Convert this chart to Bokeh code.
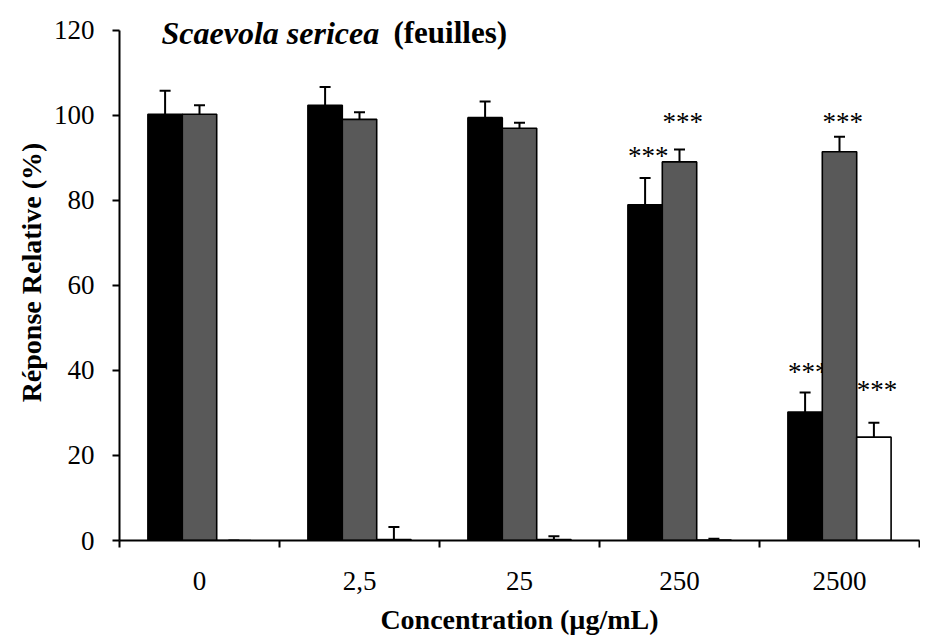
from bokeh.plotting import figure
from bokeh.models import (ColumnDataSource, Whisker, TeeHead, FixedTicker, Label,
                          Range1d)
from bokeh.embed import file_html
from bokeh.resources import INLINE
from bokeh.core.properties import value

# ---- data ----
categories = ["0", "2,5", "25", "250", "2500"]
black_vals = [100.2, 102.3, 99.4, 78.9, 30.2]
black_err = [5.5, 4.3, 3.8, 6.3, 4.6]
gray_vals = [100.2, 99.0, 96.9, 89.0, 91.4]
gray_err = [2.1, 1.7, 1.3, 2.9, 3.5]
white_vals = [0.0, 0.2, 0.2, 0.1, 24.3]
white_err = [0.0, 3.0, 0.8, 0.3, 3.4]

# significance marks: (category index, series index, y position)
star_cat = [3, 3, 4, 4, 4]
star_series = [0, 1, 0, 1, 2]
star_y = [90.5, 98.4, 39.6, 98.4, 35.4]

FONT = "Liberation Serif"
BAR_W = 0.215
offsets = [-BAR_W, 0.0, BAR_W]

p = figure(frame_width=800, frame_height=536, output_backend="svg",
           toolbar_location=None,
           x_range=Range1d(0, 5), y_range=Range1d(0, 126),
           min_border_left=119, min_border_right=1, min_border_top=4,
           min_border_bottom=80)
p.outline_line_color = None
p.xgrid.visible = False
p.ygrid.visible = False
p.background_fill_color = "white"
p.border_fill_color = "white"

# stars (drawn first so bars overlap them as in the original)
sx = [c + 0.5 + offsets[s] + 0.02 for c, s in zip(star_cat, star_series)]
p.text(x=sx, y=star_y, text=["***"] * len(sx), text_font=value(FONT),
       text_font_size="27px", text_align="center", text_baseline="middle",
       text_color="black")

series = [
    (black_vals, black_err, "#000000", "#000000"),
    (gray_vals, gray_err, "#595959", "#000000"),
    (white_vals, white_err, "#ffffff", "#000000"),
]

for i, (vals, errs, fill, line) in enumerate(series):
    xs = [k + 0.5 + offsets[i] for k in range(len(categories))]
    src = ColumnDataSource(dict(x=xs, top=vals,
                                lower=vals,
                                upper=[v + e for v, e in zip(vals, errs)]))
    p.vbar(x="x", top="top", bottom=0, width=BAR_W, source=src,
           fill_color=fill, line_color=line, line_width=1.6)
    w = Whisker(source=src, base="x", lower="lower", upper="upper",
                dimension="height", line_width=2, line_color="black",
                lower_head=None,
                upper_head=TeeHead(size=11, line_width=2, line_color="black"),
                level="glyph")
    p.add_layout(w)

# x axis
xax = p.xaxis[0]
xax.ticker = FixedTicker(ticks=[k + 0.5 for k in range(len(categories))],
                         minor_ticks=list(range(len(categories) + 1)))
xax.major_label_overrides = {k + 0.5: c for k, c in enumerate(categories)}
xax.major_tick_out = 0
xax.major_tick_in = 0
xax.minor_tick_out = 7
xax.minor_tick_in = 0
xax.minor_tick_line_width = 2
xax.minor_tick_line_color = "black"
xax.axis_line_width = 2
xax.axis_line_color = "black"
xax.major_label_text_font = FONT
xax.major_label_text_font_size = "27px"
xax.major_label_text_color = "black"
xax.major_label_standoff = 24
xax.axis_label = "Concentration (µg/mL)"
xax.axis_label_text_font = FONT
xax.axis_label_text_font_size = "28px"
xax.axis_label_text_font_style = "bold"
xax.axis_label_text_color = "black"
xax.axis_label_standoff = 11

# y axis
yax = p.yaxis[0]
yax.ticker = FixedTicker(ticks=[0, 20, 40, 60, 80, 100, 120], minor_ticks=[])
yax.bounds = (0, 120)
yax.major_tick_out = 7
yax.major_tick_in = 0
yax.major_tick_line_width = 2
yax.axis_line_width = 2
yax.axis_line_color = "black"
yax.major_tick_line_color = "black"
yax.major_label_text_font = FONT
yax.major_label_text_font_size = "27px"
yax.major_label_text_color = "black"
yax.major_label_standoff = 18
yax.axis_label = "Réponse Relative (%)"
yax.axis_label_text_font = FONT
yax.axis_label_text_font_size = "28px"
yax.axis_label_text_font_style = "bold"
yax.axis_label_text_color = "black"
yax.axis_label_standoff = 4

# title (two styles)
t1 = Label(x=0.2625, y=119.4, text="Scaevola sericea", text_font=FONT,
           text_font_size="32px", text_font_style="bold italic",
           text_align="left", text_baseline="alphabetic", text_color="black")
t2 = Label(x=1.712, y=119.4, text="(feuilles)", text_font=FONT,
           text_font_size="31px", text_font_style="bold",
           text_align="left", text_baseline="alphabetic", text_color="black")
p.add_layout(t1)
p.add_layout(t2)

open("out.html", "w").write(file_html(p, INLINE))
